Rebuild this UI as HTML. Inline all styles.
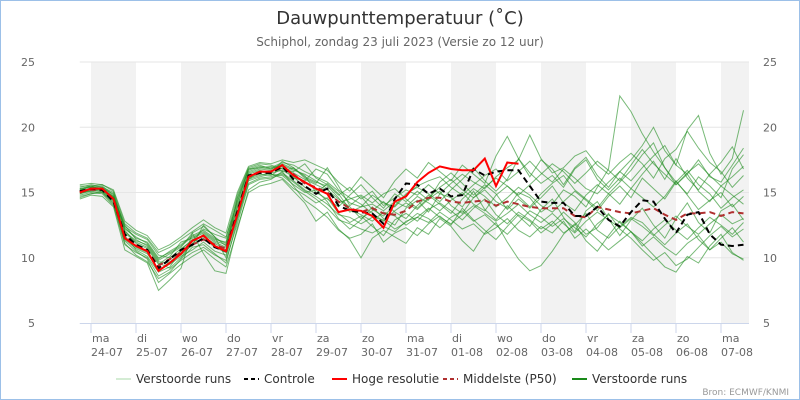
<!DOCTYPE html>
<html><head><meta charset="utf-8">
<style>
html,body{margin:0;padding:0;background:#fff;}
#wrap{position:relative;width:798px;height:398px;border:1px solid #9cc0e8;overflow:hidden;font-family:"Liberation Sans",sans-serif;}
#chart{position:absolute;left:-1px;top:-1px;}
svg text{font-family:"DejaVu Sans","Liberation Sans",sans-serif;}
</style></head>
<body>
<div id="wrap">
<svg id="chart" width="800" height="400" viewBox="0 0 800 400" xmlns="http://www.w3.org/2000/svg">
<text x="400" y="24" text-anchor="middle" font-size="18" fill="#333">Dauwpunttemperatuur (˚C)</text>
<text x="400" y="46" text-anchor="middle" font-size="12" fill="#666">Schiphol, zondag 23 juli 2023 (Versie zo 12 uur)</text>
<g id="bands"></g><g id="grid"></g><g id="axes"></g>
<g id="members"></g><g id="lines"></g>
<g id="legend"></g>
<text x="789" y="395" text-anchor="end" font-size="9" fill="#999">Bron: ECMWF/KNMI</text>
</svg>
</div>
<script>
const dayNames=["ma","di","wo","do","vr","za","zo","ma","di","wo","do","vr","za","zo","ma"];
const dayDates=["24-07","25-07","26-07","27-07","28-07","29-07","30-07","31-07","01-08","02-08","03-08","04-08","05-08","06-08","07-08"];
const yTicks=[5,10,15,20,25];
const controle=[15.1,15.3,15.2,14.3,11.8,11.0,10.6,9.2,9.9,10.6,11.0,11.5,10.8,10.5,13.5,16.3,16.5,16.5,17.0,16.0,15.5,14.9,15.3,14.0,13.6,13.5,13.4,12.6,14.5,15.7,15.6,14.9,15.3,14.7,14.8,16.8,16.3,16.6,16.7,16.7,15.5,14.3,14.2,14.2,13.2,13.2,13.9,12.9,12.4,13.5,14.4,14.3,13.0,11.9,13.3,13.5,11.8,11.0,10.9,11.0];
const hogeRes=[15.0,15.3,15.3,14.5,11.5,10.9,10.5,9.0,9.6,10.3,11.3,11.7,10.9,10.5,13.3,16.2,16.6,16.6,17.1,16.3,15.8,15.3,14.9,13.5,13.7,13.6,13.2,12.3,14.3,14.7,15.8,16.5,17.0,16.8,16.7,16.7,17.6,15.5,17.3,17.2];
const p50=[15.1,15.2,15.2,14.5,11.7,11.0,10.5,9.4,9.9,10.4,11.0,11.4,11.0,10.7,13.6,16.2,16.5,16.6,16.9,16.4,15.7,15.4,15.0,14.3,13.8,13.5,13.8,13.4,13.3,13.6,14.3,14.6,14.6,14.3,14.2,14.3,14.4,14.0,14.3,14.1,13.9,13.8,13.8,13.8,13.2,13.1,13.9,13.7,13.5,13.4,13.6,13.8,13.3,12.9,13.4,13.4,13.5,13.2,13.5,13.4];
const m1=[15.4,15.6,15.4,15.0,12.3,11.5,11.2,10.0,10.4,10.9,11.6,12.0,11.4,11.2,14.5,16.7,17.0,16.9,17.3,17.1,16.6,16.2,15.8,15.1,14.2,13.9,14.8,14.2,13.9,14.8,15.5,15.9,16.2,15.4,14.8,15.6,16.3,16.8,15.9,16.6,17.4,16.5,15.8,16.8,16.1,15.3,14.9,15.8,16.6,15.9,16.9,17.8,18.6,17.1,16.4,17.5,16.2,15.8,17.1,18.4];
const m2=[14.8,15.0,14.9,14.0,11.0,10.4,10.0,8.6,9.1,9.8,10.4,10.8,10.2,9.8,12.6,15.6,16.0,16.1,16.4,15.8,15.1,14.5,13.8,12.9,12.6,12.2,11.9,12.4,12.0,12.8,13.1,12.7,13.5,12.9,12.2,12.6,11.8,12.3,13.0,12.1,11.6,12.4,11.9,12.8,11.5,12.2,11.4,10.6,11.3,12.0,10.9,11.6,10.8,10.2,11.1,11.7,10.6,11.5,12.3,11.2];
const m3=[15.2,15.4,15.5,14.8,12.0,11.3,11.0,9.8,10.3,10.8,11.9,12.4,11.6,10.9,13.9,16.5,16.8,16.7,17.0,16.1,15.9,16.8,16.4,15.2,14.6,14.1,13.4,12.8,13.6,14.2,13.7,14.5,15.1,14.0,13.4,14.6,15.2,14.3,13.8,15.0,14.6,13.5,14.1,15.2,14.7,13.9,15.4,16.8,22.4,21.2,19.5,18.1,16.9,15.6,16.4,15.1,14.3,15.5,14.8,14.1];
const m4=[14.6,14.9,15.0,14.1,11.3,10.5,9.9,8.1,8.8,9.5,10.1,10.6,9.9,9.3,12.1,15.2,15.8,16.0,16.6,15.5,14.4,13.8,13.1,12.1,11.5,11.8,12.6,11.2,11.9,12.3,11.7,12.6,13.2,12.5,13.8,12.9,12.1,11.4,12.4,13.3,12.8,11.9,12.6,13.5,12.7,11.8,12.3,13.4,12.2,11.5,10.6,9.8,10.4,9.4,9.9,10.8,11.7,12.4,11.6,12.2];
const m5=[15.3,15.4,15.3,14.6,12.4,11.8,11.4,10.2,10.0,10.7,11.3,12.2,11.8,11.5,14.8,16.9,17.2,17.1,16.8,16.6,17.2,16.1,15.6,14.8,15.4,14.5,15.1,14.0,14.6,15.2,14.8,15.6,14.9,15.7,16.4,15.8,15.3,16.2,16.9,17.5,19.4,17.6,16.5,16.9,17.8,18.2,17.1,16.4,17.3,18.0,17.2,16.1,17.6,18.3,19.7,18.4,17.3,16.6,15.4,16.3];
const m6=[14.9,15.1,15.0,14.2,11.4,10.7,10.3,9.1,9.5,10.1,10.6,11.2,10.5,10.2,13.0,15.9,16.2,16.4,16.1,15.3,14.8,14.2,14.6,13.4,12.7,13.2,12.4,11.7,12.9,13.4,12.8,13.7,14.2,13.6,12.9,13.8,14.5,13.3,12.6,13.5,12.9,12.2,12.8,11.9,12.5,13.4,12.1,11.5,12.4,13.1,12.7,11.8,11.0,11.9,12.6,11.4,10.6,11.2,10.3,9.9];
const m7=[15.0,15.2,15.1,14.4,11.9,11.2,10.8,9.6,9.2,10.0,11.1,11.8,11.2,10.8,13.7,16.1,16.4,16.3,16.9,16.5,16.0,15.6,15.2,14.5,13.9,13.0,13.6,14.3,13.5,13.0,14.0,14.8,14.1,13.4,14.5,15.3,14.7,13.9,14.6,15.4,14.8,14.0,13.5,14.3,15.1,14.4,13.6,14.7,15.5,14.6,16.1,15.3,14.5,15.8,16.7,15.6,14.9,13.8,14.6,15.2];
const m8=[15.5,15.5,15.6,15.1,12.6,11.9,11.5,10.4,10.8,11.4,12.0,12.6,12.1,11.6,14.2,16.8,17.1,16.8,17.2,16.8,16.3,15.0,14.5,13.9,14.8,15.6,14.6,13.8,14.9,14.3,15.1,14.4,15.8,16.5,15.7,14.8,15.6,14.9,13.7,14.5,13.8,14.6,15.5,14.2,13.6,14.8,15.6,14.9,14.1,15.3,14.6,13.9,14.7,15.9,14.8,13.7,14.4,15.0,13.9,14.7];
const m9=[14.7,14.9,15.1,14.3,11.1,10.2,9.7,8.4,8.9,9.9,10.8,11.0,10.3,9.6,12.9,15.7,16.1,16.2,16.5,15.9,15.2,14.7,14.1,13.3,13.1,12.6,13.1,12.9,12.2,12.7,13.4,13.0,12.3,13.1,13.6,12.8,13.3,12.5,11.8,12.7,13.6,13.1,12.4,13.0,12.3,11.6,12.6,13.3,12.7,12.0,11.3,12.2,12.9,12.1,11.4,12.3,13.1,12.5,11.8,12.7];
const m10=[15.1,15.3,15.4,14.7,12.1,11.1,10.7,9.5,10.1,11.2,11.5,11.9,11.3,11.0,14.0,16.4,16.7,16.5,17.4,16.9,16.2,15.8,15.5,14.6,13.5,13.9,14.1,13.6,14.3,13.9,14.7,14.2,13.6,14.4,15.0,14.1,13.6,14.8,15.5,14.7,13.9,14.9,15.7,16.3,15.2,14.5,13.8,14.9,15.8,16.7,17.9,18.8,16.9,15.8,14.9,16.2,15.5,14.6,16.8,17.9];
const m11=[14.9,15.2,15.2,14.4,11.6,10.8,10.4,9.0,9.7,10.2,11.0,11.5,10.8,10.4,13.2,16.0,16.3,16.5,16.7,16.2,15.4,14.9,15.7,14.9,13.7,13.3,12.8,13.5,13.2,12.5,13.1,13.8,13.1,12.6,13.3,14.0,13.4,12.8,13.4,14.1,13.3,12.7,13.4,12.6,11.9,12.8,13.5,12.9,12.3,13.0,12.4,11.7,12.5,13.2,12.4,11.8,12.6,13.3,12.6,13.0];
const m12=[15.2,15.5,15.3,14.9,12.2,11.6,11.1,9.9,10.5,11.0,11.7,12.1,11.5,11.1,14.3,16.6,16.9,16.8,17.1,16.7,16.4,15.9,15.3,14.2,14.5,14.8,14.2,14.9,15.3,14.5,13.8,14.6,15.4,16.0,15.2,14.6,15.4,16.1,15.5,14.8,15.6,16.4,17.2,16.6,15.7,16.5,17.4,16.7,15.9,17.1,18.3,17.2,16.4,15.6,16.5,17.2,16.3,15.5,16.2,17.0];
const m13=[14.5,14.8,14.7,13.9,10.6,10.1,9.6,7.5,8.3,9.2,11.9,10.3,9.0,8.8,12.3,15.0,15.5,15.7,16.0,15.1,14.2,12.8,13.5,12.2,11.4,10.0,11.5,12.1,11.6,11.1,12.3,11.8,13.0,12.4,11.3,10.5,11.9,12.7,11.2,9.9,9.0,9.4,10.5,11.8,12.6,11.3,10.5,11.7,12.8,12.0,11.1,10.2,9.3,8.9,10.1,9.6,10.9,11.8,10.4,9.8];
const m14=[15.6,15.7,15.6,15.2,12.8,12.1,11.7,10.6,11.0,11.6,12.3,12.9,12.3,11.9,15.0,17.0,17.3,17.2,17.5,17.3,17.5,17.1,16.7,15.8,15.1,16.2,15.4,14.6,15.9,16.8,16.1,17.3,16.6,15.9,17.1,16.4,15.7,17.8,19.3,17.6,16.2,17.5,16.8,15.6,16.9,17.7,16.3,15.4,16.6,17.5,18.6,20.0,18.2,17.1,19.8,20.9,18.0,16.4,17.6,21.3];
const m15=[15.0,15.1,15.3,14.6,11.7,10.6,10.1,8.9,9.3,10.5,10.9,12.5,11.6,10.0,13.4,16.0,16.6,16.4,16.3,15.6,15.0,15.2,14.3,13.0,12.2,12.9,13.9,13.0,12.5,13.8,14.4,13.5,14.9,14.6,13.9,15.1,13.7,12.9,14.0,13.2,12.4,13.7,14.5,13.1,12.0,13.6,14.3,13.0,11.7,12.9,13.8,12.5,11.5,13.0,14.2,12.7,11.9,13.6,14.1,12.9];
const m16=[15.3,15.5,15.2,14.7,12.5,11.4,10.9,9.7,9.6,10.6,11.4,11.6,11.1,10.6,14.6,16.8,16.9,17.0,16.6,16.9,16.1,15.7,16.9,15.5,14.0,14.7,13.7,13.2,14.0,14.9,15.4,14.9,14.3,15.2,16.0,16.9,15.9,15.1,16.0,17.6,16.5,15.7,16.3,15.4,16.8,17.5,16.0,15.2,16.1,15.3,16.4,17.4,16.0,17.6,16.1,15.2,16.4,17.3,18.5,16.8];
const members=[m1,m2,m3,m4,m5,m6,m7,m8,m9,m10,m11,m12,m13,m14,m15,m16];

const NS="http://www.w3.org/2000/svg";
const x0=79.75, step=11.25, dayX0=91, dayW=45, yTop=62, yBot=323, xRight=749;
function xScale(i){return x0+i*step;}
function yScale(v){return yBot-(v-5)/20*(yBot-yTop);}
function mk(tag,attrs,parent){const e=document.createElementNS(NS,tag);for(const k in attrs)e.setAttribute(k,attrs[k]);parent.appendChild(e);return e;}
const bands=document.getElementById('bands'),grid=document.getElementById('grid'),axes=document.getElementById('axes');
dayNames.forEach((d,i)=>{
  const x=dayX0+i*dayW;
  if(i%2===0){
    const r=mk('rect',{x:x,y:yTop,width:Math.min(dayW,xRight-x),height:yBot-yTop,fill:'#f2f2f2'},bands);
    
    
  }
  const t=mk('line',{x1:x,x2:x,y1:yBot,y2:yBot+10,stroke:'#ccd6eb'},axes);
  
  
  const lb=mk('text',{x:x+1,y:yBot+19,'font-size':11,fill:'#666'},axes);
  lb.textContent=d;
  
  
  const lb2=mk('text',{x:x,y:yBot+33,'font-size':11,fill:'#666'},axes);
  lb2.textContent=dayDates[i];
  
  
});
yTicks.forEach(v=>{
  const y=yScale(v);
  if(v>5){const g=mk('line',{x1:x0,x2:xRight,y1:y,y2:y,stroke:'#e6e6e6'},grid);
  
  }
  const l=mk('text',{x:35,y:y+4,'text-anchor':'end','font-size':11,fill:'#666'},axes);l.textContent=v;
  
  
  const r=mk('text',{x:763,y:y+4,'font-size':11,fill:'#666'},axes);r.textContent=v;
  
  
});
const ax=mk('line',{x1:x0,x2:xRight,y1:yBot+0.5,y2:yBot+0.5,stroke:'#ccd6eb'},axes);


function pts(arr){return arr.map((v,i)=>xScale(i).toFixed(1)+','+yScale(v).toFixed(1)).join(' ');}
const mg=document.getElementById('members');
members.forEach(m=>{
  const p=mk('polyline',{points:pts(m),fill:'none',stroke:'#1e8c1e','stroke-width':1,'stroke-opacity':0.6},mg);
  
  
});
const lg=document.getElementById('lines');
const pl=mk('polyline',{points:pts(p50),fill:'none',stroke:'#b03030','stroke-width':2,'stroke-dasharray':'6,4'},lg);


const cl=mk('polyline',{points:pts(controle),fill:'none',stroke:'#000','stroke-width':2,'stroke-dasharray':'6,4'},lg);


const hl=mk('polyline',{points:pts(hogeRes),fill:'none',stroke:'#f00','stroke-width':2},lg);


const leg=document.getElementById('legend');
const items=[["Verstoorde runs","#a8d8a8",1,null,116],["Controle","#000",2,"4,3",244],["Hoge resolutie","#f00",2,null,332],["Middelste (P50)","#b03030",2,"4,3",443],["Verstoorde runs","#1a8a1a",2,null,572]];
items.forEach(it=>{
  const l=mk('line',{x1:it[4],x2:it[4]+15,y1:379,y2:379,stroke:it[1],'stroke-width':it[2]},leg);
  if(it[3])l.setAttribute('stroke-dasharray',it[3]);
  
  
  const t=mk('text',{x:it[4]+20,y:383,'font-size':12,fill:'#333'},leg);
  t.textContent=it[0];
  
  
});
</script>
</body></html>
